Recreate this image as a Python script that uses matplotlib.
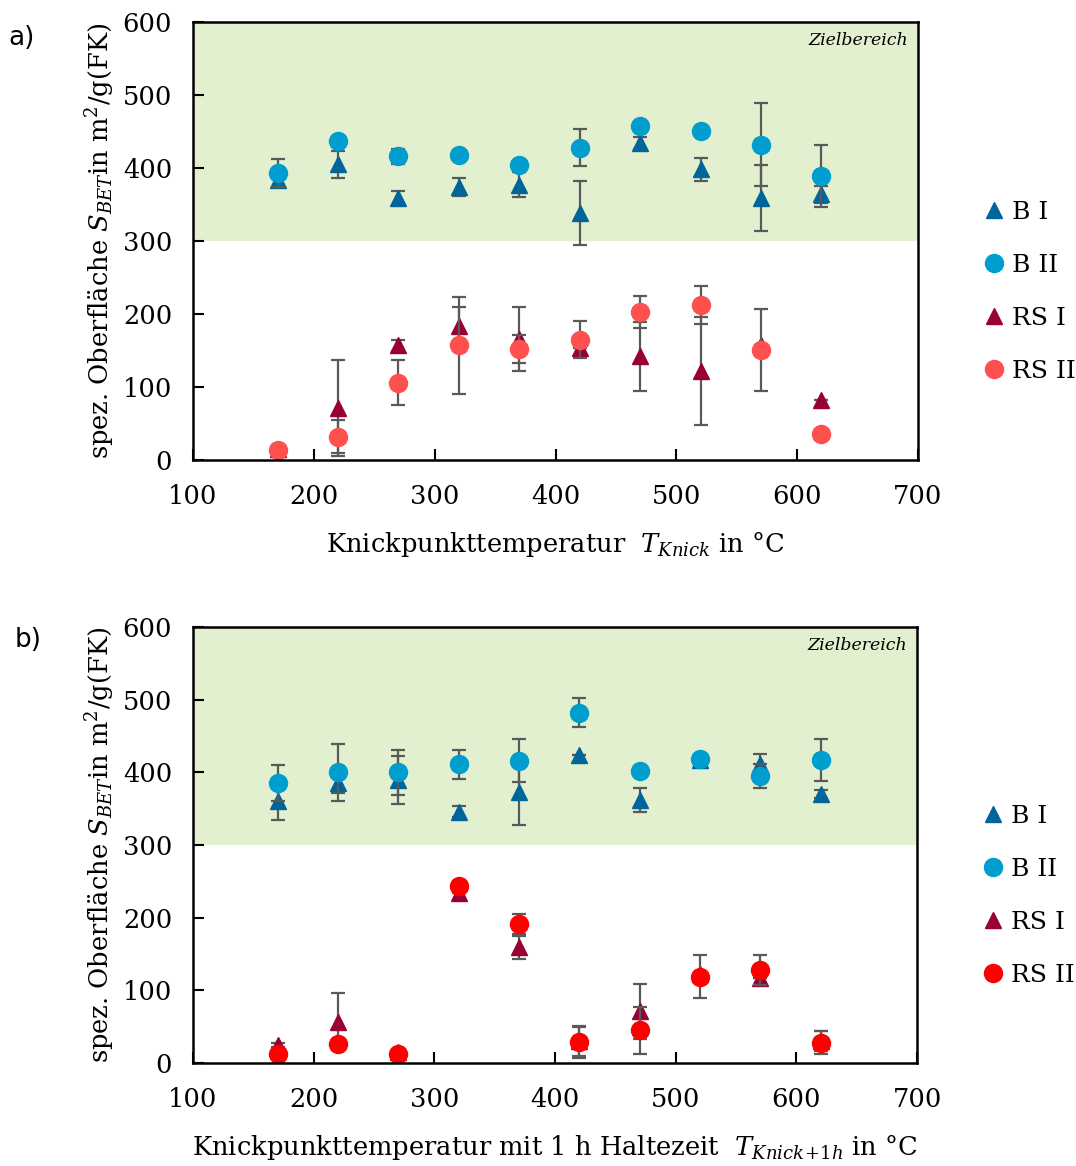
import numpy as np
import matplotlib
matplotlib.use('Agg')
import matplotlib.pyplot as plt

plt.rcParams['font.family'] = ['DejaVu Serif']
plt.rcParams['mathtext.fontset'] = 'dejavuserif'

# Knickpunkttemperatur in °C
temps = [170, 220, 270, 320, 370, 420, 470, 520, 570, 620]

# a) ohne Haltezeit
a_b1 = [383, 405, 359, 374, 377, 338, 434, 398, 359, 364]
a_b1_err = [9, 19, 10, 12, 17, 44, 8, 16, 45, 12]
a_b2 = [393, 437, 416, 418, 404, 428, 457, 451, 432, 389]
a_b2_err = [19, 0, 10, 0, 0, 25, 0, 0, 57, 42]
a_rs1 = [15, 71, 157, 183, 166, 153, 142, 122, 157, 82]
a_rs1_err = [5, 66, 8, 26, 44, 0, 47, 74, 0, 0]
a_rs2 = [14, 32, 106, 157, 152, 165, 203, 212, 151, 36]
a_rs2_err = [3, 23, 31, 66, 19, 25, 22, 26, 56, 0]

# b) mit 1 h Haltezeit
b_b1 = [360, 385, 390, 346, 373, 424, 362, 417, 412, 370]
b_b1_err = [26, 14, 33, 8, 45, 0, 16, 4, 13, 6]
b_b2 = [385, 400, 400, 411, 416, 482, 402, 418, 395, 417]
b_b2_err = [25, 39, 31, 20, 30, 20, 0, 4, 16, 29]
b_rs1 = [25, 57, 15, 234, 159, 30, 71, 122, 117, 30]
b_rs1_err = [3, 39, 4, 0, 16, 20, 38, 0, 0, 14]
b_rs2 = [12, 26, 12, 243, 191, 29, 45, 119, 128, 28]
b_rs2_err = [0, 0, 0, 0, 14, 22, 32, 29, 20, 16]

labels = ['B I', 'B II', 'RS I', 'RS II']
markers = ['^', 'o', '^', 'o']
msizes = [12, 13, 12, 13]
green = '#e2f0d0'
errcol = '#595959'

fig = plt.figure(figsize=(10.76, 11.66), dpi=100)
ax_a = fig.add_axes([0.1794, 0.6055, 0.6738, 0.3756])
ax_b = fig.add_axes([0.1794, 0.0883, 0.6729, 0.3740])


def panel(ax, series, colors, xlabel):
    ax.axhspan(300, 600, color=green, zorder=0, lw=0)
    handles = []
    for i, (y, e) in enumerate(series):
        ax.errorbar(temps, y, yerr=e, fmt='none', ecolor=errcol, elinewidth=1.6,
                    capsize=5, capthick=1.6, zorder=2 + 2 * i)
        h, = ax.plot(temps, y, ls='none', marker=markers[i], ms=msizes[i],
                     color=colors[i], mec=colors[i], zorder=3 + 2 * i, label=labels[i])
        handles.append(h)
    ax.set_xlim(100, 700)
    ax.set_ylim(0, 600)
    ax.set_xticks(range(100, 701, 100))
    ax.set_yticks(range(0, 601, 100))
    ax.tick_params(direction='in', length=8, width=1.5, labelsize=18.5)
    ax.tick_params(axis='y', pad=15)
    ax.tick_params(axis='x', pad=17)
    for s in ax.spines.values():
        s.set_linewidth(1.8)
        s.set_zorder(20)
    ax.set_xlabel(xlabel, fontsize=18.5, labelpad=15)
    ax.set_ylabel(r'spez. Oberfläche $S_{BET}$in m$^2$/g(FK)', fontsize=18.5, labelpad=4)
    ax.text(0.986, 0.958, 'Zielbereich', transform=ax.transAxes, ha='right', va='center',
            fontsize=12.5, style='italic')
    ax.legend(handles=handles, loc='center left', bbox_to_anchor=(1.075, 0.384),
              frameon=False, fontsize=18, handlelength=0.9, handletextpad=0.3,
              labelspacing=1.2, borderaxespad=0)


panel(ax_a, [(a_b1, a_b1_err), (a_b2, a_b2_err), (a_rs1, a_rs1_err), (a_rs2, a_rs2_err)],
      ['#00659b', '#009ece', '#990033', '#ff5050'],
      r'Knickpunkttemperatur  $T_{Knick}$ in °C')
panel(ax_b, [(b_b1, b_b1_err), (b_b2, b_b2_err), (b_rs1, b_rs1_err), (b_rs2, b_rs2_err)],
      ['#00659b', '#009ece', '#990033', '#ff0000'],
      r'Knickpunkttemperatur mit 1 h Haltezeit  $T_{Knick\!+\!1h}$ in °C')

fig.text(22 / 1076, 1 - 38 / 1166, 'a)', fontsize=19, family='DejaVu Sans', ha='center', va='center')
fig.text(28 / 1076, 1 - 640 / 1166, 'b)', fontsize=19, family='DejaVu Sans', ha='center', va='center')

fig.savefig('out.png', dpi=100)
